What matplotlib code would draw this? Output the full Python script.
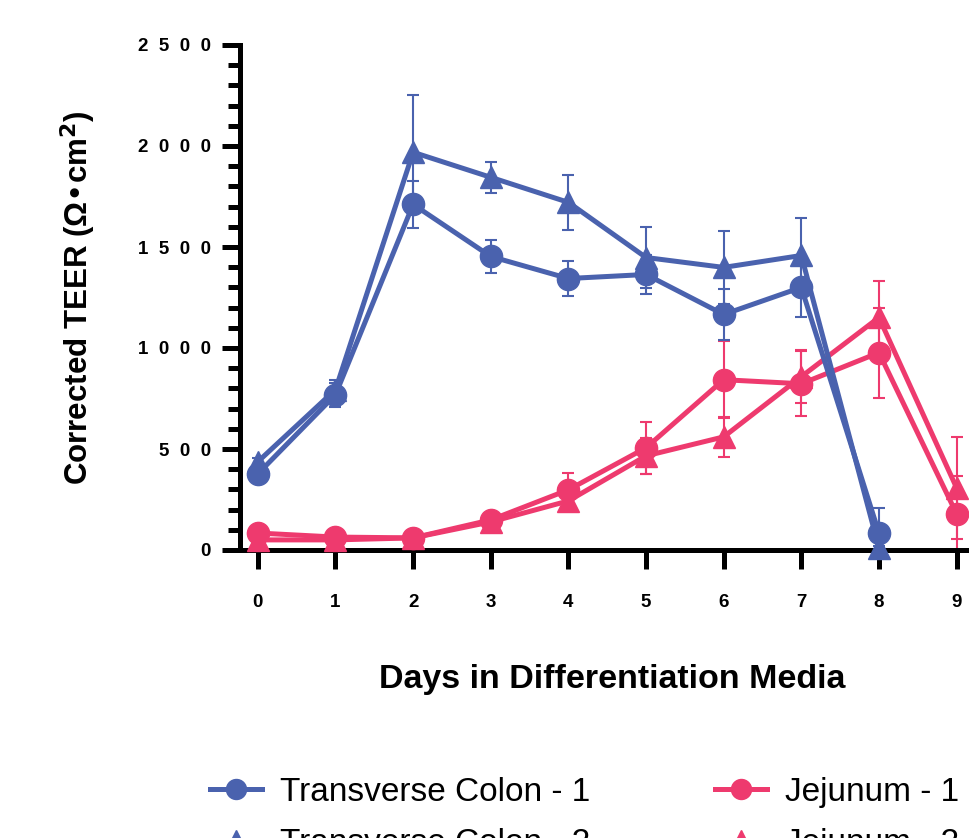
import matplotlib
matplotlib.use("Agg")
from matplotlib import pyplot as plt
from matplotlib.ticker import MultipleLocator, FixedLocator

plt.rcParams['font.family'] = ['Liberation Sans', 'DejaVu Sans']

days = [0, 1, 2, 3, 4, 5, 6, 7, 8, 9]

# Transverse Colon (no day 9)
tc1 = [377, 769, 1711, 1453, 1344, 1364, 1166, 1300, 84]
tc1_err = [20, 60, 115, 80, 85, 95, 125, 145, 125]
tc2 = [437, 794, 1969, 1845, 1721, 1448, 1399, 1458, 10]
tc2_err = [20, 50, 283, 78, 137, 150, 180, 185, 10]

# Jejunum
je1 = [84, 64, 60, 149, 298, 506, 843, 823, 977, 179]
je1_err = [10, 10, 10, 20, 85, 130, 190, 160, 223, 185]
je2 = [50, 50, 60, 139, 243, 466, 560, 858, 1151, 308]
je2_err = [10, 10, 10, 15, 30, 90, 100, 130, 183, 252]

blue = '#4A62AE'
pink = '#EE3A6E'

fig = plt.figure(figsize=(9.69, 8.38), dpi=100)
ax = fig.add_axes([240/969, 1-550/838, 1-240/969, (550-45)/838])

def draw(y, err, col, mk, ms, lab):
    x = days[:len(y)]
    ax.errorbar(x, y, yerr=err, color=col, ecolor=col, elinewidth=1.5,
                capsize=4, capthick=1.5, clip_on=False, zorder=2)
    h, = ax.plot(x, y, color=col, lw=3.6, marker=mk, ms=ms,
                 clip_on=False, zorder=3, label=lab)
    return h

h3 = draw(je1, je1_err, pink, 'o', 16, 'Jejunum - 1')
h4 = draw(je2, je2_err, pink, '^', 16, 'Jejunum - 2')
h1 = draw(tc1, tc1_err, blue, 'o', 16, 'Transverse Colon - 1')
h2 = draw(tc2, tc2_err, blue, '^', 16, 'Transverse Colon - 2')

ax.set_xlim(-0.23, 9.16)
ax.set_ylim(0, 2500)
for s in ['top', 'right']:
    ax.spines[s].set_visible(False)
for s in ['left', 'bottom']:
    ax.spines[s].set_linewidth(3.6)

ax.set_xticks(days)
ax.set_xticklabels([str(d) for d in days], fontsize=13.5, fontweight='bold')
yt = [0, 500, 1000, 1500, 2000, 2500]
ax.yaxis.set_major_locator(FixedLocator(yt))
ax.set_yticklabels(['  '.join(str(v)) for v in yt], fontsize=13.5, fontweight='bold')
ax.yaxis.set_minor_locator(MultipleLocator(100))
ax.tick_params(axis='x', direction='out', length=14, width=3.6, pad=18)
ax.tick_params(axis='y', which='major', direction='out', length=13, width=3.6, pad=8)
ax.tick_params(axis='y', which='minor', direction='out', length=8.5, width=3.6)

ax.set_ylabel('Corrected TEER (Ω•cm$^\\mathbf{2}$)', fontsize=22.5, fontweight='bold')
ax.yaxis.set_label_coords((98-240)/(969-240), 0.5)
ax.set_xlabel('Days in Differentiation Media', fontsize=24.5, fontweight='bold')
ax.xaxis.set_label_coords((612-240)/(969-240), -(664-550)/(550-45))

fig.legend(handles=[h1, h2, h3, h4], ncol=2, loc='upper left',
           bbox_to_anchor=(210/969, 1-777/838), frameon=False,
           prop={'size': 24},
           handlelength=1.56, handletextpad=0.54, columnspacing=3.75,
           labelspacing=0.6, borderpad=0, borderaxespad=0, markerscale=0.9)

fig.savefig('out.png', dpi=100)
